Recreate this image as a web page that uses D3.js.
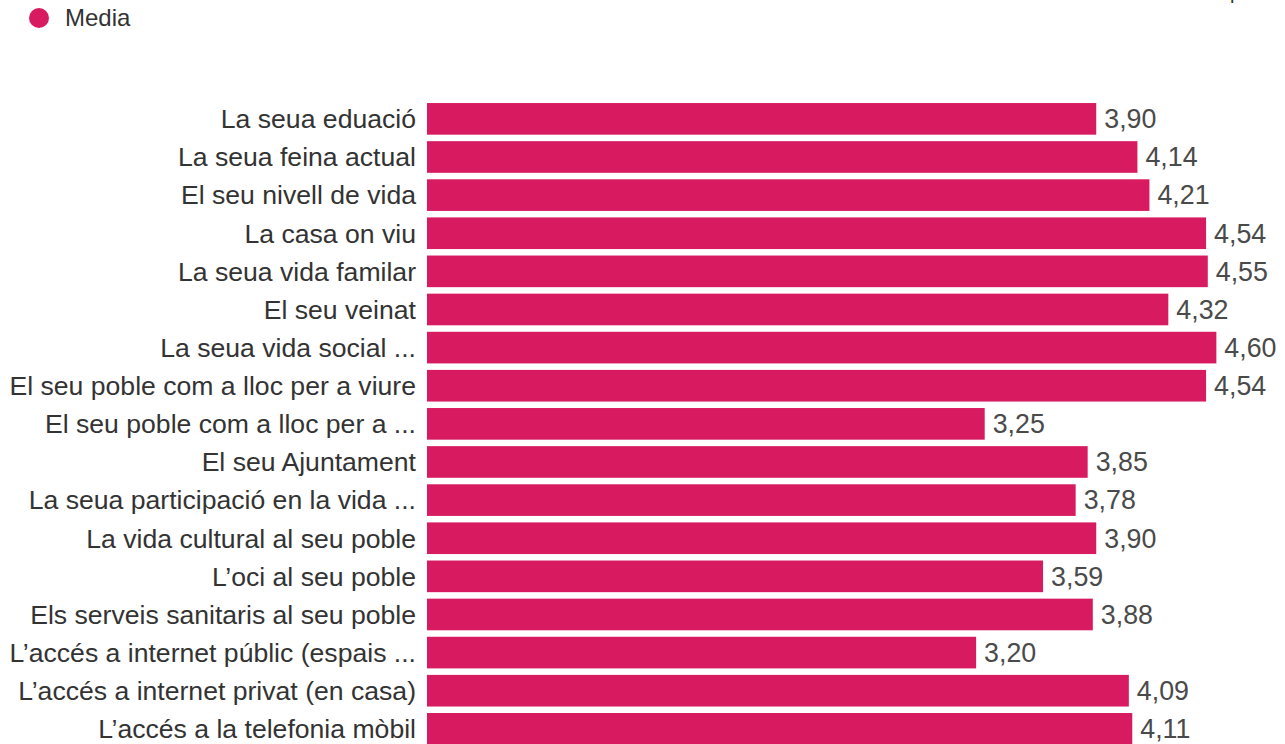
<!DOCTYPE html>
<html>
<head>
<meta charset="utf-8">
<script src="https://cdn.jsdelivr.net/npm/d3@7"></script>
<style>
  html, body { margin: 0; padding: 0; background: #fff; overflow: hidden; }
  svg { display: block; font-family: "Liberation Sans", Arial, sans-serif; }
</style>
</head>
<body>
<svg id="chart" width="1285" height="744"></svg>
<script>
const categories = [
  "La seua eduació",
  "La seua feina actual",
  "El seu nivell de vida",
  "La casa on viu",
  "La seua vida familar",
  "El seu veinat",
  "La seua vida social ...",
  "El seu poble com a lloc per a viure",
  "El seu poble com a lloc per a ...",
  "El seu Ajuntament",
  "La seua participació en la vida ...",
  "La vida cultural al seu poble",
  "L’oci al seu poble",
  "Els serveis sanitaris al seu poble",
  "L’accés a internet públic (espais ...",
  "L’accés a internet privat (en casa)",
  "L’accés a la telefonia mòbil"
];
const values = [3.90, 4.14, 4.21, 4.54, 4.55, 4.32, 4.60, 4.54, 3.25, 3.85, 3.78, 3.90, 3.59, 3.88, 3.20, 4.09, 4.11];
const seriesName = "Media";
const xDomain = [0, 5];

const color = "#d81b60";
const svg = d3.select("#chart");

const x = d3.scaleLinear().domain(xDomain).range([427, 1285]);
const y = d3.scaleBand().domain(categories).range([99.8, 747.9]).paddingInner(0.17).paddingOuter(0.085);

const fmt = v => d3.format(".2f")(v).replace(".", ",");

// bars
svg.append("g").selectAll("rect").data(values).join("rect")
  .attr("x", x(0))
  .attr("y", (d, i) => y(categories[i]))
  .attr("width", d => x(d) - x(0))
  .attr("height", y.bandwidth())
  .attr("fill", color);

// category labels
svg.append("g").selectAll("text").data(categories).join("text")
  .attr("x", x(0) - 11)
  .attr("y", d => y(d) + y.bandwidth() / 2)
  .attr("dy", "0.35em")
  .attr("text-anchor", "end")
  .attr("font-size", 26.6)
  .attr("fill", "#333")
  .text(d => d);

// value labels
svg.append("g").selectAll("text").data(values).join("text")
  .attr("x", d => x(d) + 8)
  .attr("y", (d, i) => y(categories[i]) + y.bandwidth() / 2)
  .attr("dy", "0.35em")
  .attr("font-size", 26.8)
  .attr("fill", "#4a4a4a")
  .text(d => fmt(d));

// legend
const lg = svg.append("g");
lg.append("circle").attr("cx", 39).attr("cy", 18).attr("r", 10).attr("fill", color);
lg.append("text").attr("x", 65).attr("y", 18).attr("dy", "0.35em")
  .attr("font-size", 24).attr("fill", "#333").text(seriesName);

// clipped text at top right (only its descender shows, as in the reference)
svg.append("text").attr("x", 1230).attr("y", -1).attr("font-size", 20).attr("fill", "#333").text("p");
</script>
</body>
</html>
